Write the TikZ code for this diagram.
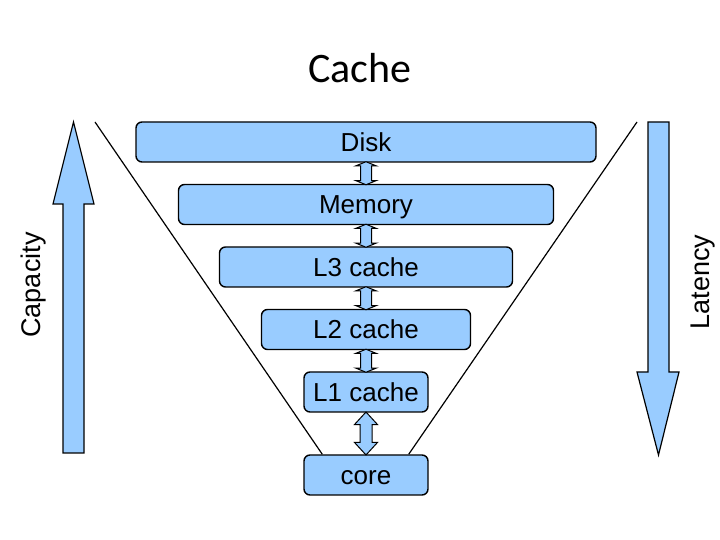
\documentclass[tikz,border=0pt]{standalone}
\usepackage{fontspec}
\setmainfont{Liberation Sans}
\newfontfamily\titlefont{Carlito}
\usetikzlibrary{shapes.arrows, positioning}
\definecolor{cachefill}{RGB}{153,204,255}

\begin{document}
\begin{tikzpicture}[x=1pt, y=1pt,
    lvl/.style={rectangle, rounded corners=6pt, draw, line width=1.4pt, fill=cachefill,
        minimum height=40pt, inner sep=0pt, text height=22pt, text depth=3pt,
        font=\fontsize{26}{30}\selectfont},
    link/.style={double arrow, draw, line width=1pt, fill=cachefill, sloped, inner sep=5pt,
        minimum height=23pt, minimum width=20pt, double arrow head extend=5pt,
        double arrow tip angle=136},
    biglink/.style={link, inner sep=5.5pt, minimum height=43pt, minimum width=22pt,
        double arrow head extend=5.5pt, double arrow tip angle=85},
    blockarr/.style={draw, line width=1.2pt, fill=cachefill},
    side/.style={font=\fontsize{27}{30}\selectfont, rotate=90},
    node distance=21.1pt]
\useasboundingbox (0,0) rectangle (720,540);
\node[font=\titlefont\fontsize{42}{48}\selectfont] (title) at (360,472) {Cache};

% funnel outline
\coordinate (fl) at (95,418);
\coordinate (fr) at (637,418);

% levels
\node[lvl, minimum width=460pt] (disk) at (366,398) {Disk};
\node[lvl, minimum width=375pt, below=of disk] (mem) {Memory};
\node[lvl, minimum width=293pt, below=of mem] (l3) {L3 cache};
\node[lvl, minimum width=209pt, below=of l3] (l2) {L2 cache};
\node[lvl, minimum width=124pt, below=of l2] (l1) {L1 cache};
\node[lvl, minimum width=124pt, below=41.6pt of l1] (core) {core};

\draw[line width=1.2pt] (fl) -- ([xshift=19pt]core.north west);
\draw[line width=1.2pt] (fr) -- ([xshift=-20pt]core.north east);

\path (disk.south) -- node[link] {} (mem.north);
\path (mem.south) -- node[link] {} (l3.north);
\path (l3.south) -- node[link] {} (l2.north);
\path (l2.south) -- node[link] {} (l1.north);
\path (l1.south) -- node[biglink] {} (core.north);

% capacity / latency
\draw[blockarr] (63,87) -- (63,336) -- (53,336) -- (73.5,418) -- (94,336) -- (84,336) -- (84,87) -- cycle;
\draw[blockarr] (648,418) -- (648,168) -- (637,168) -- (658.5,85) -- (679,168) -- (669,168) -- (669,418) -- cycle;
\node[side] (cap) at (34,255) {Capacity};
\node[side] (lat) at (703,258) {Latency};
\end{tikzpicture}
\end{document}
